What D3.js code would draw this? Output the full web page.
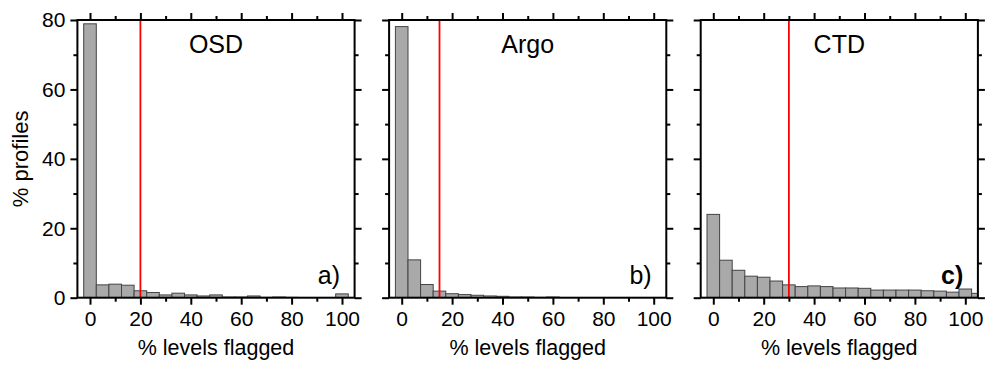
<!DOCTYPE html>
<html lang="en">
<head>
<meta charset="UTF-8">
<title>flagged levels</title>
<script src="https://cdn.jsdelivr.net/npm/d3@7"></script>
<style>
    body { margin: 0; background: #fff; }
    text { font-family: "Liberation Sans", Arial, sans-serif; fill: #000; }
</style>
</head>
<body>
<svg id="chart" width="986" height="367"></svg>
<script>
// bin centres (% levels flagged), 5% wide
const bins = [0, 5, 10, 15, 20, 25, 30, 35, 40, 45, 50, 55, 60, 65, 70, 75, 80, 85, 90, 95, 100, 105];

// % profiles in each bin
const osd  = [78.9, 3.7, 3.9, 3.6, 2.0, 1.5, 0.8, 1.3, 0.8, 0.5, 0.8, 0.2, 0.2, 0.5, 0.1, 0.2, 0.1, 0.05, 0.05, 0.05, 1.1, 0];
const argo = [78.1, 10.9, 3.8, 1.9, 1.15, 0.9, 0.7, 0.5, 0.4, 0.2, 0.2, 0.1, 0.2, 0.05, 0.05, 0.05, 0.05, 0.05, 0.05, 0.05, 0.05, 0];
const ctd  = [24.0, 10.8, 7.9, 6.2, 5.9, 4.8, 3.7, 3.2, 3.4, 3.2, 2.8, 2.8, 2.7, 2.2, 2.2, 2.2, 2.2, 2.0, 1.9, 1.6, 2.5, 1.25];

const titles = ["OSD", "Argo", "CTD"];
const tags = ["a)", "b)", "c)"];
const cutoffs = [20, 15, 30];
const xTicks = [0, 20, 40, 60, 80, 100];
const xMinor = [10, 30, 50, 70, 90];
const yTicks = [0, 20, 40, 60, 80];
const yMinor = [10, 30, 50, 70];

const series = [osd, argo, ctd];
const lefts = [77.4, 389.1, 700.7];
const plotTop = 20;
const w = 277.2, h = 277.7;

const svg = d3.select("#chart");

const x = d3.scaleLinear().domain([-5, 105]).range([0, w]);
const y = d3.scaleLinear().domain([0, 80]).range([h, 0]);

svg.append("defs").append("clipPath").attr("id", "plotclip")
    .append("rect").attr("width", w).attr("height", h);

function styleAxis(g) {
    g.select(".domain").remove();
    g.selectAll(".tick line").attr("stroke", "#000").attr("stroke-width", 2);
    g.selectAll("text").attr("font-size", 21).attr("font-family", "Liberation Sans, Arial, sans-serif");
}

series.forEach((vals, i) => {
    const g = svg.append("g").attr("transform", `translate(${lefts[i]},${plotTop})`);

    // bars
    g.append("g").attr("clip-path", "url(#plotclip)")
        .selectAll("rect")
        .data(bins.map((b, k) => ({ b: b, v: vals[k] })))
        .join("rect")
        .attr("x", d => x(d.b - 2.5))
        .attr("width", d => x(d.b + 2.5) - x(d.b - 2.5))
        .attr("y", d => y(d.v))
        .attr("height", d => h - y(d.v))
        .attr("fill", "#a9a9a9")
        .attr("stroke", "#444")
        .attr("stroke-width", 1);

    // threshold
    g.append("line")
        .attr("x1", x(cutoffs[i])).attr("x2", x(cutoffs[i]))
        .attr("y1", 0).attr("y2", h)
        .attr("stroke", "#ff0000").attr("stroke-width", 1.8);

    // axes: major + minor ticks on all four sides
    g.append("g").attr("transform", `translate(0,${h})`)
        .call(d3.axisBottom(x).tickValues(xTicks).tickSize(7).tickPadding(6).tickFormat(d3.format("d")))
        .call(styleAxis);
    g.append("g").attr("transform", `translate(0,${h})`)
        .call(d3.axisBottom(x).tickValues(xMinor).tickSize(4).tickFormat(""))
        .call(styleAxis);
    g.append("g")
        .call(d3.axisTop(x).tickValues(xTicks).tickSize(7).tickFormat(""))
        .call(styleAxis);
    g.append("g")
        .call(d3.axisTop(x).tickValues(xMinor).tickSize(4).tickFormat(""))
        .call(styleAxis);
    g.append("g")
        .call(d3.axisLeft(y).tickValues(yTicks).tickSize(7).tickPadding(5)
            .tickFormat(i === 0 ? d3.format("d") : ""))
        .call(styleAxis);
    g.append("g")
        .call(d3.axisLeft(y).tickValues(yMinor).tickSize(4).tickFormat(""))
        .call(styleAxis);
    g.append("g").attr("transform", `translate(${w},0)`)
        .call(d3.axisRight(y).tickValues(yTicks).tickSize(7).tickFormat(""))
        .call(styleAxis);
    g.append("g").attr("transform", `translate(${w},0)`)
        .call(d3.axisRight(y).tickValues(yMinor).tickSize(4).tickFormat(""))
        .call(styleAxis);

    // frame
    g.append("rect")
        .attr("width", w).attr("height", h)
        .attr("fill", "none").attr("stroke", "#000").attr("stroke-width", 2);

    g.append("text")
        .attr("x", w / 2).attr("y", 33)
        .attr("text-anchor", "middle")
        .attr("font-size", 25)
        .text(titles[i]);

    g.append("text")
        .attr("x", w - 14.6).attr("y", 264)
        .attr("text-anchor", "end")
        .attr("font-size", 25)
        .attr("font-weight", i === 2 ? "bold" : "normal")
        .text(tags[i]);

    g.append("text")
        .attr("x", w / 2).attr("y", 335)
        .attr("text-anchor", "middle")
        .attr("font-size", 21.5)
        .text("% levels flagged");
});

svg.append("text")
    .attr("transform", `translate(28,${plotTop + h / 2}) rotate(-90)`)
    .attr("text-anchor", "middle")
    .attr("font-size", 22)
    .text("% profiles");
</script>
</body>
</html>
